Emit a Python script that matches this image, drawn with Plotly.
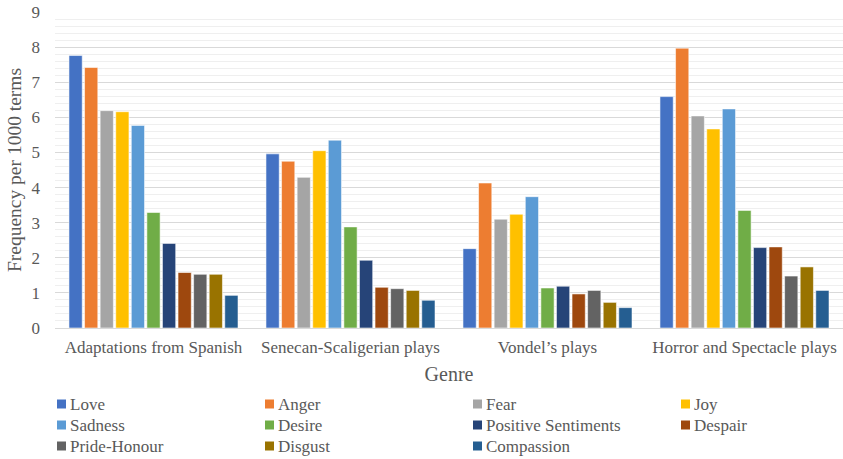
import plotly.graph_objects as go

genres = ["Adaptations from Spanish", "Senecan-Scaligerian plays", "Vondel\u2019s plays", "Horror and Spectacle plays"]

emotions = ["Love", "Anger", "Fear", "Joy", "Sadness", "Desire",
            "Positive Sentiments", "Despair", "Pride-Honour", "Disgust", "Compassion"]

love = [7.76, 4.96, 2.26, 6.59]
anger = [7.42, 4.75, 4.13, 7.97]
fear = [6.19, 4.29, 3.10, 6.04]
joy = [6.16, 5.05, 3.24, 5.67]
sadness = [5.77, 5.35, 3.74, 6.24]
desire = [3.29, 2.88, 1.14, 3.35]
positive_sentiments = [2.41, 1.93, 1.19, 2.29]
despair = [1.58, 1.16, 0.97, 2.31]
pride_honour = [1.53, 1.12, 1.07, 1.48]
disgust = [1.53, 1.07, 0.73, 1.74]
compassion = [0.93, 0.79, 0.58, 1.07]

series = [love, anger, fear, joy, sadness, desire,
          positive_sentiments, despair, pride_honour, disgust, compassion]

colors = ["#4472C4", "#ED7D31", "#A5A5A5", "#FFC000", "#5B9BD5", "#70AD47",
          "#264478", "#9E480E", "#636363", "#997300", "#255E91"]

font_family = "Liberation Serif, Times New Roman, serif"
text_color = "#595959"

W, H = 843, 459
ML, MR, MT, MB = 55, 0, 12, 131
PW, PH = W - ML - MR, H - MT - MB

fig = go.Figure()
for name, vals, col in zip(emotions, series, colors):
    fig.add_trace(go.Bar(
        name=name, x=genres, y=vals,
        marker=dict(color=col, line=dict(color="rgba(255,255,255,0.7)", width=0.8)),
        showlegend=False,
    ))

# Compact 4-column legend below the chart (square swatch + label)
def px_to_paper_x(px):
    return (px - ML) / PW

def px_to_paper_y(py):
    return (H - MB - py) / PH

col_x = [57, 265, 473, 681]
row_y = [404, 425, 446]
sw = 9
shapes, annotations = [], []
for i, (name, col) in enumerate(zip(emotions, colors)):
    cx = col_x[i % 4]
    cy = row_y[i // 4]
    shapes.append(dict(
        type="rect", xref="paper", yref="paper",
        x0=px_to_paper_x(cx), x1=px_to_paper_x(cx + sw),
        y0=px_to_paper_y(cy + sw / 2), y1=px_to_paper_y(cy - sw / 2),
        fillcolor=col, line=dict(width=0),
    ))
    annotations.append(dict(
        xref="paper", yref="paper", x=px_to_paper_x(cx + sw + 2), y=px_to_paper_y(cy),
        xanchor="left", yanchor="middle", showarrow=False, text=name,
        font=dict(family=font_family, size=17, color=text_color),
    ))

fig.update_layout(
    width=W, height=H,
    barmode="group", bargap=0.13, bargroupgap=0.15,
    plot_bgcolor="white", paper_bgcolor="white",
    margin=dict(l=ML, r=MR, t=MT, b=MB, autoexpand=False),
    font=dict(family=font_family, size=17, color=text_color),
    showlegend=False,
    shapes=shapes, annotations=annotations,
)

fig.update_xaxes(
    showline=True, linecolor="#d9d9d9", linewidth=1,
    ticks="", tickfont=dict(size=17, color=text_color), ticklabelstandoff=4,
    title=dict(text="Genre", font=dict(size=20, color=text_color), standoff=10),
)

fig.update_yaxes(
    range=[0, 9], dtick=1, showgrid=True, gridcolor="#d9d9d9", gridwidth=1,
    minor=dict(dtick=0.2, showgrid=True, gridcolor="#efefef", gridwidth=1),
    zeroline=False, showline=False, ticks="",
    tickfont=dict(size=17, color=text_color), ticklabelstandoff=14,
    title=dict(text="Frequency per 1000 terms", font=dict(size=19.5, color=text_color), standoff=4),
)

fig.write_html("out.html")
